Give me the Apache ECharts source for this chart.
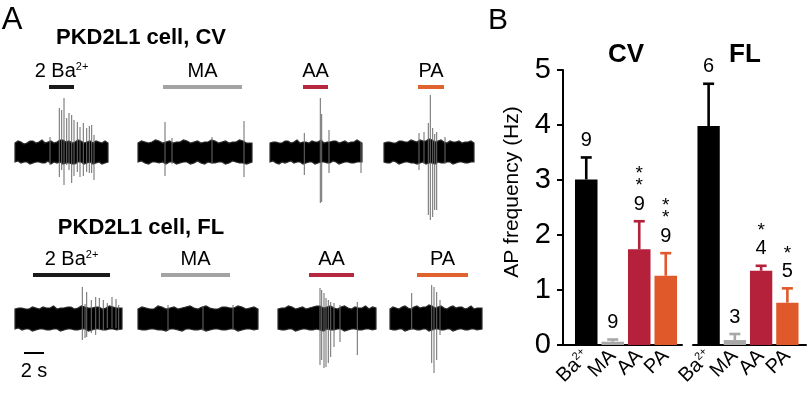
<!DOCTYPE html>
<html><head><meta charset="utf-8">
<script src="https://cdn.jsdelivr.net/npm/echarts@6/dist/echarts.min.js"></script>
<style>html,body{margin:0;background:#fff}#c{width:807px;height:400px}</style>
</head><body><div id="c"></div><script>
// ---------- Panel B data ----------
const barCategories = ['Ba2+', 'MA', 'AA', 'PA'];
const barColors = ['#000000', '#a8a8a8', '#b5213b', '#e0592a'];
const cvMeans = [3.01, 0.06, 1.74, 1.26];
const cvSem = [0.40, 0.04, 0.51, 0.41];
const cvN = ['9', '9', '9', '9'];
const cvSig = ['', '', '**', '**'];
const flMeans = [3.98, 0.09, 1.35, 0.77];
const flSem = [0.77, 0.11, 0.09, 0.26];
const flN = ['6', '3', '4', '5'];
const flSig = ['', '', '*', '*'];
const yTicks = [0, 1, 2, 3, 4, 5];

// ---------- Panel A data (time in s, amplitude in arbitrary units) ----------
const traceNames = ['cvBa', 'cvMA', 'cvAA', 'cvPA', 'flBa', 'flMA', 'flAA', 'flPA'];
const traceDur = [9.3, 11.4, 9.2, 9.0, 10.7, 12.0, 9.8, 9.2];
const stimStart = [3.4, 2.5, 3.3, 3.4, 1.8, 2.3, 3.1, 2.7];
const stimEnd = [5.9, 10.4, 5.8, 6.0, 9.5, 9.2, 7.6, 7.8];
const stimLabels = ['2 Ba{s|2+}', 'MA', 'AA', 'PA', '2 Ba{s|2+}', 'MA', 'AA', 'PA'];
const stimColors = ['#1a1a1a', '#a3a3a3', '#b5283f', '#e0622f', '#1a1a1a', '#a3a3a3', '#b5283f', '#e0622f'];
const scaleBar = [[0.9, 2.9]]; // 2 s

// noise envelope [t, upper, lower]
const cvBaEnv = [[0,9,-10],[0.3,11,-9],[0.6,10,-11],[0.9,8,-10],[1.2,9,-10],[1.5,11,-12],[1.8,11,-11],[2.1,9,-10],[2.4,10,-10],[2.7,12,-11],[3.0,9,-11],[3.3,10,-9],[3.6,11,-12],[3.9,9,-10],[4.2,10,-11],[4.5,12,-10],[4.8,12,-12],[5.1,10,-11],[5.4,11,-11],[5.7,9,-12],[6.0,10,-12],[6.3,12,-10],[6.6,11,-10],[6.9,9,-12],[7.2,10,-11],[7.5,11,-10],[7.8,9,-12],[8.1,11,-11],[8.4,10,-10],[8.7,9,-12],[9.0,11,-11],[9.3,9,-10]];
const cvMAEnv = [[0,9,-10],[0.35,11,-9],[0.7,10,-11],[1.05,9,-12],[1.4,10,-10],[1.75,12,-10],[2.1,11,-11],[2.45,9,-10],[2.8,10,-12],[3.15,11,-10],[3.5,9,-10],[3.85,10,-12],[4.2,10,-11],[4.55,12,-10],[4.9,11,-10],[5.25,9,-12],[5.6,10,-11],[5.95,11,-9],[6.3,9,-11],[6.65,10,-12],[7.0,10,-10],[7.35,12,-11],[7.7,11,-11],[8.05,9,-10],[8.4,10,-10],[8.75,11,-12],[9.1,9,-11],[9.45,10,-9],[9.8,10,-10],[10.15,12,-11],[10.5,11,-11],[10.85,9,-12],[11.4,9,-10]];
const cvAAEnv = [[0,9,-10],[0.3,10,-9],[0.6,10,-11],[0.9,9,-12],[1.2,9,-10],[1.5,11,-11],[1.8,11,-10],[2.1,9,-9],[2.4,10,-11],[2.7,12,-10],[3.0,9,-10],[3.3,10,-12],[3.6,10,-11],[3.9,9,-10],[4.2,11,-10],[4.5,10,-12],[4.8,10,-11],[5.1,12,-10],[5.4,9,-10],[5.7,10,-11],[6.0,10,-11],[6.3,11,-9],[6.6,11,-10],[6.9,9,-12],[7.2,10,-11],[7.5,11,-10],[7.8,9,-10],[8.1,10,-11],[8.4,10,-11],[8.7,12,-10],[9.2,9,-10]];
const cvPAEnv = [[0,9,-10],[0.3,10,-11],[0.6,10,-11],[0.9,9,-9],[1.2,9,-10],[1.5,11,-12],[1.8,11,-11],[2.1,10,-10],[2.4,10,-10],[2.7,12,-11],[3.0,11,-11],[3.3,10,-12],[3.6,12,-11],[3.9,11,-10],[4.2,11,-12],[4.5,13,-11],[4.8,12,-11],[5.1,10,-12],[5.4,11,-10],[5.7,12,-11],[6.0,10,-11],[6.3,9,-10],[6.6,11,-10],[6.9,10,-12],[7.2,10,-11],[7.5,11,-10],[7.8,9,-10],[8.1,10,-11],[8.4,10,-11],[8.7,11,-10],[9.0,9,-10]];
const flBaEnv = [[0,9,-11],[0.35,10,-10],[0.7,10,-12],[1.05,9,-11],[1.4,9,-11],[1.75,11,-13],[2.1,10,-12],[2.45,9,-11],[2.8,11,-11],[3.15,10,-12],[3.5,10,-12],[3.85,12,-11],[4.2,9,-11],[4.55,10,-13],[4.9,10,-12],[5.25,11,-11],[5.6,11,-11],[5.95,9,-12],[6.3,10,-12],[6.65,12,-11],[7.0,11,-11],[7.35,10,-13],[7.7,10,-12],[8.05,11,-11],[8.4,11,-11],[8.75,9,-12],[9.1,10,-12],[9.45,12,-11],[9.8,11,-11],[10.15,10,-12],[10.7,10,-11]];
const flMAEnv = [[0,9,-11],[0.4,11,-12],[0.8,10,-12],[1.2,9,-11],[1.6,9,-11],[2.0,12,-12],[2.4,11,-12],[2.8,9,-13],[3.2,10,-11],[3.6,11,-11],[4.0,9,-12],[4.4,10,-13],[4.8,11,-11],[5.2,12,-11],[5.6,10,-12],[6.0,9,-12],[6.4,11,-11],[6.8,12,-13],[7.2,10,-12],[7.6,9,-11],[8.0,9,-11],[8.4,11,-12],[8.8,11,-12],[9.2,10,-11],[9.6,10,-11],[10.0,12,-13],[10.4,11,-12],[10.8,9,-11],[11.2,10,-11],[11.6,11,-12],[12.0,9,-11]];
const flAAEnv = [[0,9,-11],[0.35,10,-12],[0.7,10,-12],[1.05,12,-11],[1.4,11,-11],[1.75,9,-13],[2.1,10,-12],[2.45,11,-11],[2.8,9,-11],[3.15,10,-12],[3.5,11,-12],[3.85,12,-11],[4.2,12,-12],[4.55,10,-13],[4.9,11,-11],[5.25,12,-12],[5.6,10,-12],[5.95,9,-11],[6.3,11,-11],[6.65,12,-13],[7.0,10,-12],[7.35,9,-11],[7.7,11,-11],[8.05,10,-12],[8.4,10,-12],[8.75,12,-11],[9.1,9,-11],[9.45,11,-12],[9.8,10,-11]];
const flPAEnv = [[0,9,-11],[0.3,11,-12],[0.6,10,-12],[0.9,9,-11],[1.2,11,-11],[1.5,12,-13],[1.8,10,-12],[2.1,9,-11],[2.4,11,-11],[2.7,12,-12],[3.0,10,-12],[3.3,11,-11],[3.6,11,-11],[3.9,13,-13],[4.2,12,-12],[4.5,10,-11],[4.8,11,-11],[5.1,12,-12],[5.4,10,-12],[5.7,9,-11],[6.0,11,-11],[6.3,12,-13],[6.6,10,-12],[6.9,11,-11],[7.2,11,-11],[7.5,9,-12],[7.8,10,-12],[8.1,12,-11],[8.4,9,-11],[8.7,10,-12],[9.2,10,-11]];

// spikes [t, top, bottom]
const cvBaSpikes = [[3.5,15,-13],[4.43,44,-25],[4.67,42,-18],[4.9,54,-33],[5.17,34,-13],[5.4,39,-18],[5.67,37,-31],[5.9,32,-24],[6.23,30,-20],[6.5,25,-25],[6.83,29,-24],[7.17,24,-20],[7.43,26,-21],[7.67,27,-21],[7.9,17,-28]];
const cvMASpikes = [[2.7,30,-24],[3.4,14,-12],[7.4,15,-12],[10.6,31,-25]];
const cvAASpikes = [[3.43,19,-23],[5.03,54,-51],[5.17,38,-50],[5.9,22,-21],[9.1,10,-21]];
const cvPASpikes = [[3.5,19,-18],[4.0,20,-12],[4.43,29,-63],[4.63,57,-68],[4.87,24,-65],[5.07,18,-58],[5.27,20,-58],[6.1,15,-12]];
const flBaSpikes = [[6.73,31,-22],[7.0,14,-20],[7.17,26,-19],[7.63,18,-15],[8.07,21,-17],[8.43,20,-12],[8.83,18,-12],[9.23,15,-10],[9.7,21,-10],[10.1,19,-10],[10.37,13,-12]];
const flMASpikes = [[3.0,13,-12],[6.5,12,-13],[9.5,13,-12]];
const flAASpikes = [[4.2,30,-47],[4.37,28,-42],[4.6,25,-50],[4.8,20,-49],[5.03,18,-45],[5.27,16,-39],[5.6,15,-29],[6.2,13,-24],[7.93,16,-37]];
const flPASpikes = [[2.17,25,-12],[4.17,33,-45],[4.4,31,-55],[4.67,26,-42],[5.0,18,-17]];

const traceEnvs = [cvBaEnv, cvMAEnv, cvAAEnv, cvPAEnv, flBaEnv, flMAEnv, flAAEnv, flPAEnv];
const traceSpikes = [cvBaSpikes, cvMASpikes, cvAASpikes, cvPASpikes, flBaSpikes, flMASpikes, flAASpikes, flPASpikes];

// ---------- layout ----------
const FONT = 'Liberation Sans, Arial, sans-serif';
const PX_PER_S = 10;
const traceLeft = [15, 138, 270, 384, 15, 138, 278, 390];
const traceRow = [0, 0, 0, 0, 1, 1, 1, 1];
const rowCenterY = [152, 318];
const AMP_MIN = -70, AMP_MAX = 60;
const stimBarLevel = [65, 43];
const stimLabelLevel = [81, 59];

const chart = echarts.init(document.getElementById('c'), null, {renderer: 'canvas'});
const grids = [], xAxes = [], yAxes = [], series = [];

traceNames.forEach((name, i) => {
  const r = traceRow[i];
  grids.push({left: traceLeft[i], top: rowCenterY[r] - AMP_MAX, width: traceDur[i] * PX_PER_S, height: AMP_MAX - AMP_MIN});
  xAxes.push({type: 'value', gridIndex: i, min: 0, max: traceDur[i], show: false});
  yAxes.push({type: 'value', gridIndex: i, min: AMP_MIN, max: AMP_MAX, show: false});
  const env = traceEnvs[i];
  series.push({
    type: 'custom', name: name + ' band', xAxisIndex: i, yAxisIndex: i, clip: false, silent: true,
    data: env, encode: {x: 0, y: [1, 2]},
    renderItem: (params, api) => {
      if (params.dataIndex !== 0) return null;
      const up = env.map(p => api.coord([p[0], p[1]]));
      const lo = env.slice().reverse().map(p => api.coord([p[0], p[2]]));
      return {type: 'polygon', shape: {points: up.concat(lo)}, style: {fill: '#000', stroke: '#2a2a2a', lineWidth: 1.2}};
    }
  });
  series.push({
    type: 'custom', name: name + ' spikes', xAxisIndex: i, yAxisIndex: i, clip: false, silent: true,
    data: traceSpikes[i], encode: {x: 0, y: [1, 2]},
    renderItem: (params, api) => {
      const a = api.coord([api.value(0), api.value(1)]);
      const b = api.coord([api.value(0), api.value(2)]);
      return {type: 'line', shape: {x1: a[0], y1: a[1], x2: b[0], y2: b[1]}, style: {stroke: '#6a6a6a', lineWidth: 1}};
    }
  });
  series.push({
    type: 'custom', name: name + ' stim', xAxisIndex: i, yAxisIndex: i, clip: false, silent: true,
    data: [[stimStart[i], stimEnd[i]]], encode: {x: [0, 1]},
    renderItem: (params, api) => {
      const a = api.coord([api.value(0), stimBarLevel[r]]);
      const b = api.coord([api.value(1), stimBarLevel[r]]);
      const ly = api.coord([0, stimLabelLevel[r]])[1];
      return {type: 'group', children: [
        {type: 'rect', shape: {x: a[0], y: a[1] - 2, width: b[0] - a[0], height: 4}, style: {fill: stimColors[i]}},
        {type: 'text', x: (a[0] + b[0]) / 2, y: ly, style: {text: stimLabels[i], fontSize: 20, fontFamily: FONT, fill: '#000', align: 'center', verticalAlign: 'middle',
          rich: {s: {fontSize: 11, fontFamily: FONT, verticalAlign: 'top', padding: [0, 0, 8, 0]}}}}
      ]};
    }
  });
});

// scale bar (in flBa grid)
series.push({
  type: 'custom', name: 'scale', xAxisIndex: 4, yAxisIndex: 4, clip: false, silent: true,
  data: scaleBar, encode: {x: [0, 1]},
  renderItem: (params, api) => {
    const a = api.coord([api.value(0), -35]);
    const b = api.coord([api.value(1), -35]);
    const ty = api.coord([0, -53])[1];
    return {type: 'group', children: [
      {type: 'line', shape: {x1: a[0], y1: a[1], x2: b[0], y2: b[1]}, style: {stroke: '#000', lineWidth: 2}},
      {type: 'text', x: (a[0] + b[0]) / 2, y: ty, style: {text: '2 s', fontSize: 20, fontFamily: FONT, fill: '#000', align: 'center', verticalAlign: 'middle'}}
    ]};
  }
});

// ---------- Panel B ----------
const B_TOP = 70, B_H = 275;
const gCVf = grids.length;
grids.push({left: 563, top: B_TOP, width: 119, height: B_H});
xAxes.push({type: 'value', gridIndex: gCVf, min: 0, max: 1, axisLine: {show: true, lineStyle: {color: '#000', width: 2}}, axisTick: {show: false}, axisLabel: {show: false}, splitLine: {show: false}});
yAxes.push({type: 'value', gridIndex: gCVf, min: yTicks[0], max: yTicks[yTicks.length - 1], interval: 1,
  axisLine: {show: true, lineStyle: {color: '#000', width: 2}}, axisTick: {show: true, length: 6, lineStyle: {color: '#000', width: 2}},
  axisLabel: {fontSize: 29, color: '#000', fontFamily: FONT, margin: 12}, splitLine: {show: false}});
const gCVb = grids.length;
grids.push({left: 573, top: B_TOP, width: 106, height: B_H});
const gFLf = grids.length;
grids.push({left: 693, top: B_TOP, width: 113, height: B_H});
const gFLb = grids.length;
grids.push({left: 695.5, top: B_TOP, width: 105, height: B_H});

const catAxis = (gi) => ({type: 'category', gridIndex: gi, data: barCategories, axisLine: {show: false}, axisTick: {show: false},
  axisLabel: {interval: 0, rotate: 45, margin: 8, color: '#000', fontFamily: FONT, fontSize: 20,
    formatter: v => v === 'Ba2+' ? '{n|Ba}{s|2+}' : '{n|' + v + '}',
    rich: {n: {fontSize: 20, fontFamily: FONT, color: '#000'}, s: {fontSize: 11, fontFamily: FONT, color: '#000', verticalAlign: 'top', padding: [0, 0, 8, 0]}}}});
const hiddenY = (gi) => ({type: 'value', gridIndex: gi, min: 0, max: 5, show: false});

xAxes.push(catAxis(gCVb)); yAxes.push(hiddenY(gCVb));
xAxes.push({type: 'value', gridIndex: gFLf, min: 0, max: 1, axisLine: {show: true, lineStyle: {color: '#000', width: 2}}, axisTick: {show: false}, axisLabel: {show: false}, splitLine: {show: false}});
yAxes.push(hiddenY(gFLf));
xAxes.push(catAxis(gFLb)); yAxes.push(hiddenY(gFLb));

function addBars(gi, means, sems, ns, sigs, nm) {
  series.push({type: 'bar', name: nm, xAxisIndex: gi, yAxisIndex: gi, barCategoryGap: '15%', silent: true,
    data: means.map((m, i) => ({value: m, itemStyle: {color: barColors[i]}}))});
  series.push({type: 'custom', name: nm + ' err', xAxisIndex: gi, yAxisIndex: gi, clip: false, silent: true, z: 5,
    data: means.map((m, i) => [i, m, m + sems[i]]), encode: {x: 0, y: [1, 2]},
    renderItem: (params, api) => {
      const i = params.dataIndex;
      const p0 = api.coord([i, api.value(1)]);
      const p1 = api.coord([i, api.value(2)]);
      const col = barColors[i];
      const ch = [
        {type: 'line', shape: {x1: p0[0], y1: p0[1], x2: p1[0], y2: p1[1]}, style: {stroke: col, lineWidth: 2.6}},
        {type: 'line', shape: {x1: p1[0] - 5.5, y1: p1[1], x2: p1[0] + 5.5, y2: p1[1]}, style: {stroke: col, lineWidth: 2.6}},
        {type: 'text', x: p1[0], y: p1[1] - 17, style: {text: ns[i], fontSize: 20, fontFamily: FONT, fill: '#000', align: 'center', verticalAlign: 'middle'}}
      ];
      if (sigs[i]) ch.push({type: 'text', x: p1[0], y: p1[1] - 29, style: {text: sigs[i].split('').join('\n'), fontSize: 19, lineHeight: 12, fontFamily: FONT, fill: '#000', align: 'center', verticalAlign: 'bottom'}});
      return {type: 'group', children: ch};
    }});
}
addBars(gCVb, cvMeans, cvSem, cvN, cvSig, 'CV');
addBars(gFLb, flMeans, flSem, flN, flSig, 'FL');

const txt = (x, y, text, size, weight, extra) => Object.assign({type: 'text', x, y, silent: true,
  style: {text, fontSize: size, fontWeight: weight || 'normal', fontFamily: FONT, fill: '#000', align: 'center', verticalAlign: 'middle'}}, extra || {});

chart.setOption({
  animation: false,
  backgroundColor: '#fff',
  grid: grids, xAxis: xAxes, yAxis: yAxes, series,
  graphic: [
    txt(12, 20, 'A', 31),
    txt(498, 21, 'B', 30),
    txt(141, 38, 'PKD2L1 cell, CV', 22, 'bold'),
    txt(141, 228, 'PKD2L1 cell, FL', 22, 'bold'),
    txt(626, 55, 'CV', 26, 'bold'),
    txt(745, 55, 'FL', 26, 'bold'),
    txt(512, 192, 'AP frequency (Hz)', 21, 'normal', {rotation: Math.PI / 2})
  ]
});
</script></body></html>
